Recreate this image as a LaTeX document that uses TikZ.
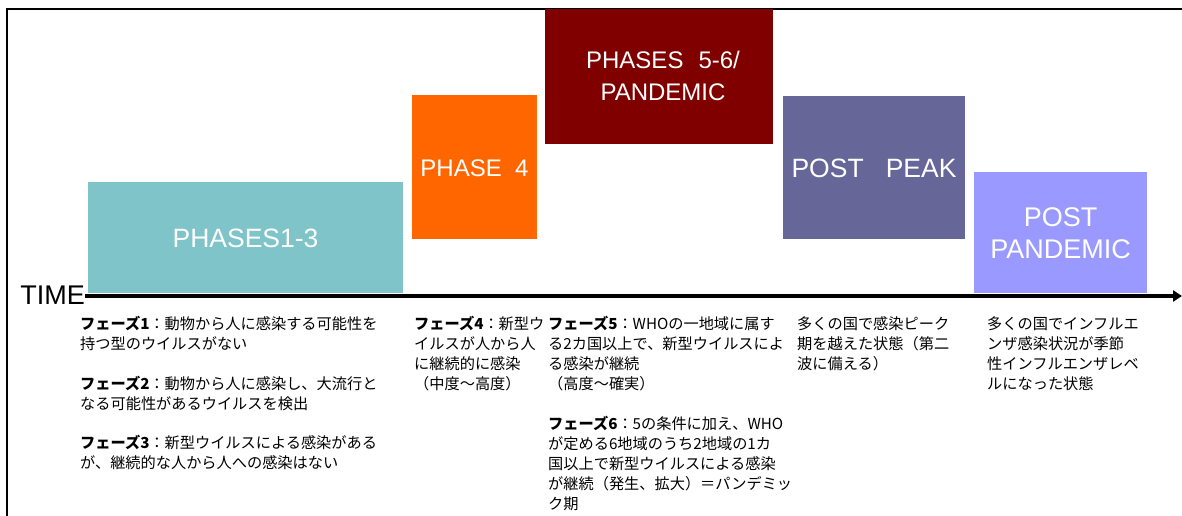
\documentclass[tikz,border=0pt]{standalone}
\usepackage{fontspec}
\setmainfont{Liberation Sans}
\newfontfamily\jp{Noto Sans CJK JP}
\usetikzlibrary{arrows.meta}
\definecolor{cteal}{HTML}{7FC4C9}
\definecolor{corange}{HTML}{FF6600}
\definecolor{cdred}{HTML}{800000}
\definecolor{cslate}{HTML}{666699}
\definecolor{clav}{HTML}{9999FF}
\tikzset{
  phasebox/.style={inner sep=0pt, text=white, align=center, font=\fontsize{24}{32}\selectfont},
  biglabel/.style={font=\fontsize{26.5}{33}\selectfont},
  desc/.style={anchor=north west, inner sep=0pt, align=left, font=\jp\fontsize{15.2}{20}\selectfont},
  frameline/.style={line width=2pt, black},
  timeline/.style={line width=3.2pt, black, -{Triangle[length=9pt,width=11pt]}}
}
\begin{document}
\begin{tikzpicture}[x=1pt,y=-1pt]
\useasboundingbox (0,0) rectangle (1182,516);
\fill[white] (0,0) rectangle (1182,516);
% frame
\coordinate (fbl) at (7,516);
\coordinate (ftl) at (7,9);
\coordinate (ftr) at (1182,9);
\draw[frameline] (fbl) -- (ftl) -- (ftr);
% boxes
\fill[cteal] (88,182) rectangle (403,293);
\node[phasebox,biglabel] (p13) at (245.5,238) {PHASES1-3};
\fill[corange] (412,95) rectangle (537,239);
\node[phasebox] (p4) at (474.5,168) {PHASE\ \ 4};
\fill[cdred] (545,9) rectangle (773,144);
\node[phasebox] (p56) at (663,76) {PHASES\hspace{15pt}5-6/\\PANDEMIC};
\fill[cslate] (783,96) rectangle (965,239);
\node[phasebox,biglabel] (pp) at (874,168) {POST\ \ \ PEAK};
\fill[clav] (974,172) rectangle (1147,293);
\node[phasebox,font=\fontsize{27}{32}\selectfont] (ppd) at (1060.5,233) {POST\\PANDEMIC};
% time axis
\node[anchor=base east, inner sep=0pt, font=\fontsize{27}{30}\selectfont] (time) at (85,304) {TIME};
\coordinate (tend) at (1182,296);
\draw[timeline] (time.east |- tend) -- (tend);
% descriptions
\node[desc] (d1) at (80,316) {{\bfseries フェーズ1}：動物から人に感染する可能性を\\持つ型のウイルスがない};
\node[desc] (d2) at (80,376) {{\bfseries フェーズ2}：動物から人に感染し、大流行と\\なる可能性があるウイルスを検出};
\node[desc] (d3) at (80,435) {{\bfseries フェーズ3}：新型ウイルスによる感染がある\\が、継続的な人から人への感染はない};
\node[desc] (d4) at (414,316) {{\bfseries フェーズ4}：新型ウ\\イルスが人から人\\に継続的に感染\\（中度～高度）};
\node[desc] (d5) at (548,316) {{\bfseries フェーズ5}：WHOの一地域に属す\\る2カ国以上で、新型ウイルスによ\\る感染が継続\\（高度～確実）};
\node[desc] (d6) at (548,416) {{\bfseries フェーズ6}：5の条件に加え、WHO\\が定める6地域のうち2地域の1カ\\国以上で新型ウイルスによる感染\\が継続（発生、拡大）＝パンデミッ\\ク期};
\node[desc] (d7) at (797,316) {多くの国で感染ピーク\\期を越えた状態（第二\\波に備える）};
\node[desc] (d8) at (987,316) {多くの国でインフルエ\\ンザ感染状況が季節\\性インフルエンザレベ\\ルになった状態};
\end{tikzpicture}
\end{document}
